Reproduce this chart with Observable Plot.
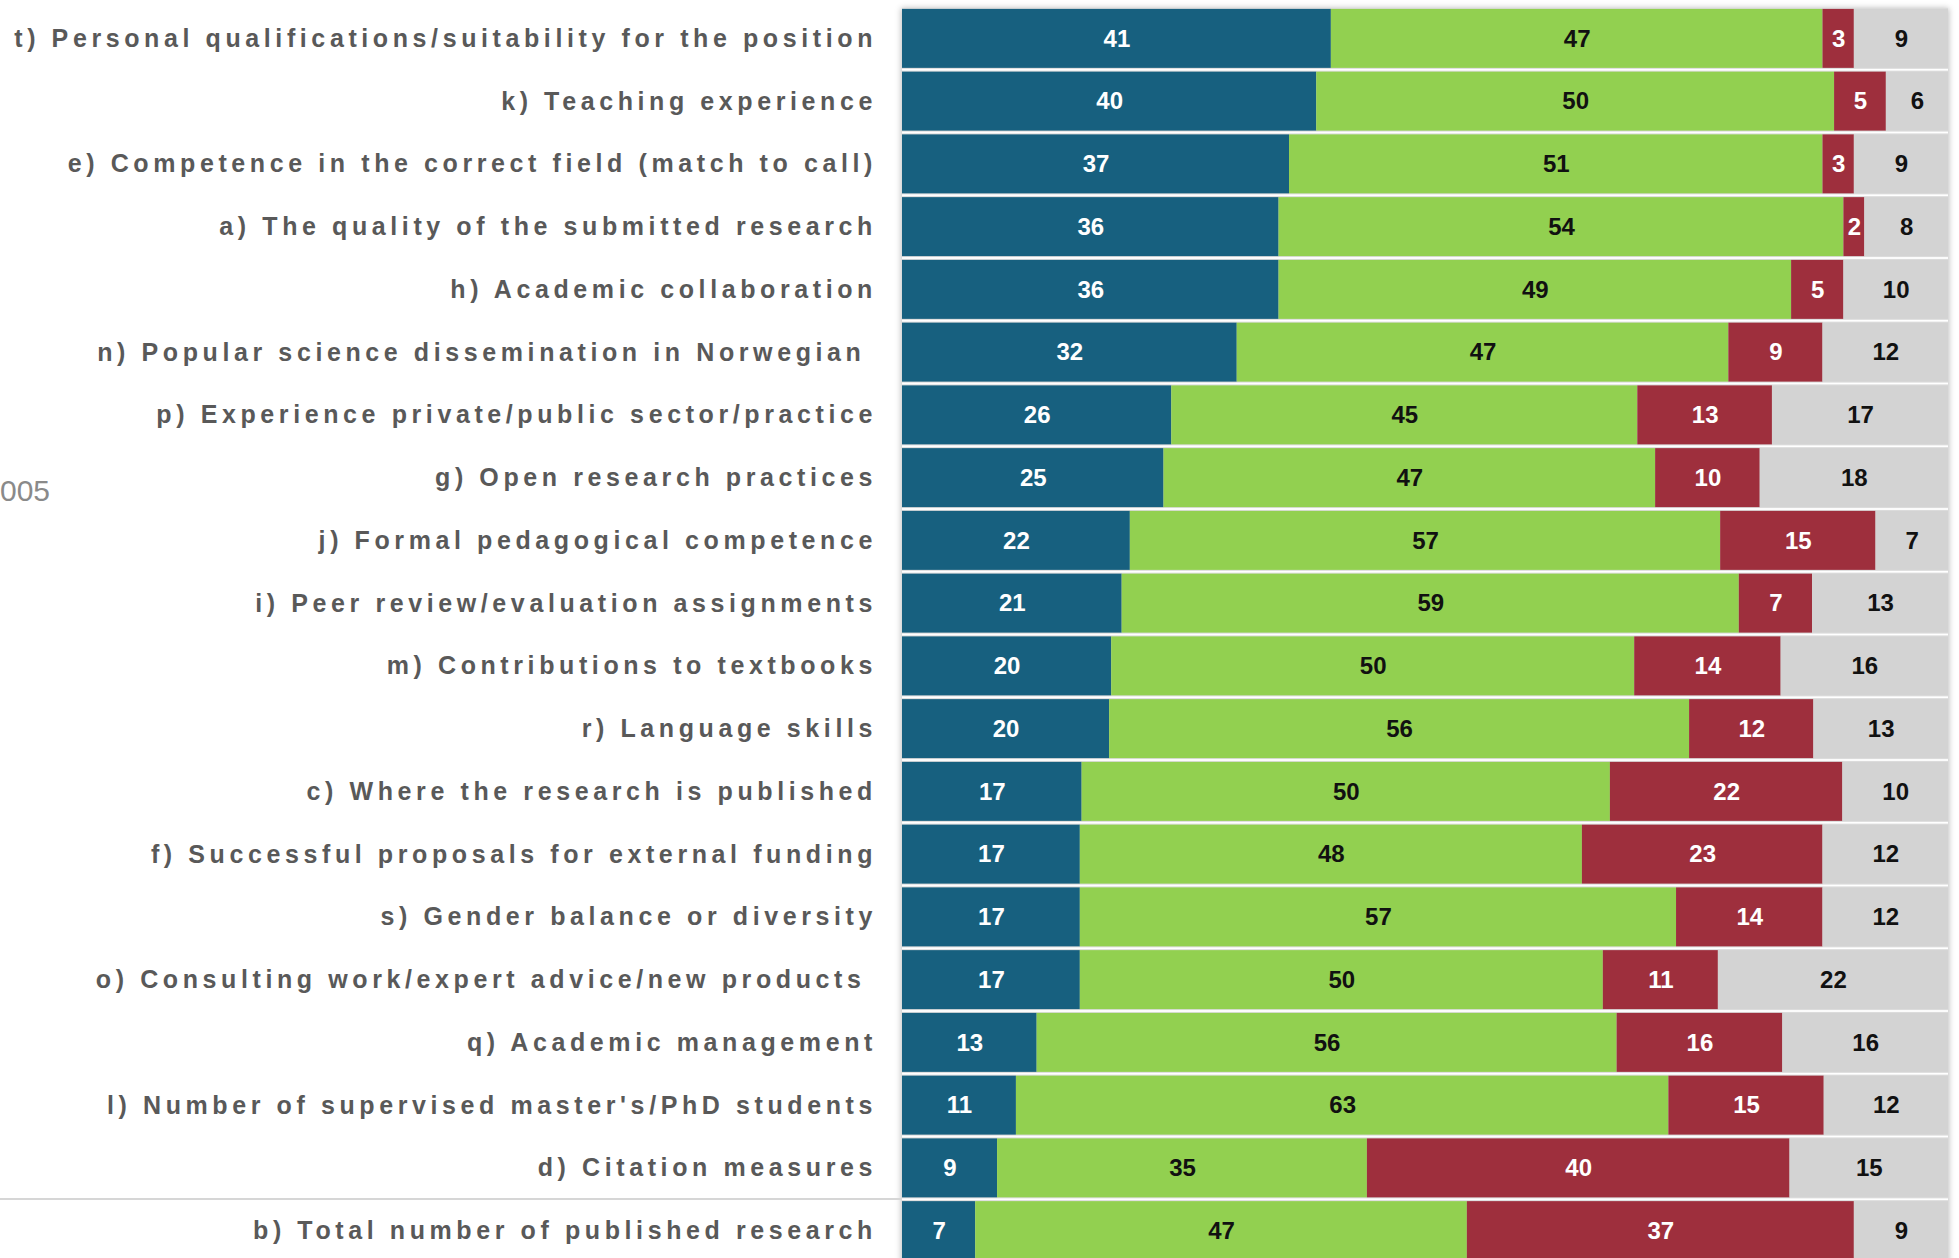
<!DOCTYPE html>
<html>
<head>
<meta charset="utf-8">
<script src="https://cdn.jsdelivr.net/npm/d3@7"></script>
<script src="https://cdn.jsdelivr.net/npm/@observablehq/plot@0.6"></script>
<style>
html, body { margin: 0; padding: 0; background: #fff; overflow: hidden; width: 1959px; height: 1258px; }
#wrap { position: relative; width: 1959px; height: 1258px; overflow: hidden; }
#shadow { position: absolute; left: 902px; top: 9px; width: 1046px; height: 1262px; background: #fff; box-shadow: 0 0 6px 1px rgba(0,0,0,0.25); }
#rule { position: absolute; left: 0; top: 1198px; width: 902px; height: 2px; background: #d6d6d6; }
#stray { position: absolute; left: 0; top: 476px; font: 30px/1 "Liberation Sans", Arial, sans-serif; color: #8a8a8a; }
#chart { position: absolute; left: 0; top: 0; }
#chart svg g[aria-label="y-axis tick label"] text { letter-spacing: 4.6px; }
</style>
</head>
<body>
<div id="wrap">
  <div id="shadow"></div>
  <div id="rule"></div>
  <div id="stray">005</div>
  <div id="chart"></div>
</div>
<script>
const labels = [
  "t) Personal qualifications/suitability for the position",
  "k) Teaching experience",
  "e) Competence in the correct field (match to call)",
  "a) The quality of the submitted research",
  "h) Academic collaboration",
  "n) Popular science dissemination in Norwegian\u00a0",
  "p) Experience private/public sector/practice",
  "g) Open research practices",
  "j) Formal pedagogical competence",
  "i) Peer review/evaluation assignments",
  "m) Contributions to textbooks",
  "r) Language skills",
  "c) Where the research is published",
  "f) Successful proposals for external funding",
  "s) Gender balance or diversity",
  "o) Consulting work/expert advice/new products\u00a0",
  "q) Academic management",
  "l) Number of supervised master's/PhD students",
  "d) Citation measures",
  "b) Total number of published research"
];
const categories = ["blue", "green", "red", "grey"];
const blueValues  = [41, 40, 37, 36, 36, 32, 26, 25, 22, 21, 20, 20, 17, 17, 17, 17, 13, 11, 9, 7];
const greenValues = [47, 50, 51, 54, 49, 47, 45, 47, 57, 59, 50, 56, 50, 48, 57, 50, 56, 63, 35, 47];
const redValues   = [3, 5, 3, 2, 5, 9, 13, 10, 15, 7, 14, 12, 22, 23, 14, 11, 16, 15, 40, 37];
const greyValues  = [9, 6, 9, 8, 10, 12, 17, 18, 7, 13, 16, 13, 10, 12, 12, 22, 16, 12, 15, 9];

const seriesValues = [blueValues, greenValues, redValues, greyValues];
const fillColors = {blue: "#17607f", green: "#92d050", red: "#9e2f3d", grey: "#d3d3d3"};
const textColors = {blue: "#ffffff", green: "#111111", red: "#ffffff", grey: "#111111"};

const data = labels.flatMap((label, i) =>
  categories.map((cat, j) => ({label, cat, value: seriesValues[j][i]}))
);

const chart = Plot.plot({
  width: 1959,
  height: 1263,
  marginLeft: 902,
  marginRight: 11,
  marginTop: 7,
  marginBottom: 1,
  style: {background: "transparent", fontFamily: "'Liberation Sans', Arial, sans-serif"},
  x: {domain: [0, 1], axis: null},
  y: {domain: labels, paddingInner: 0.06, paddingOuter: 0.03, round: false, axis: null},
  marks: [
    Plot.barX(labels, {y: d => d, x1: 0, x2: 1, fill: "#dcdcdc", insetTop: -1, insetBottom: -1}),
    Plot.barX(data, Plot.stackX({
      x: "value", y: "label", z: "cat", offset: "normalize",
      fill: d => fillColors[d.cat]
    })),
    Plot.text(data, Plot.stackX({
      x: "value", y: "label", z: "cat", offset: "normalize",
      text: d => String(d.value),
      fill: d => textColors[d.cat],
      fontSize: 24, fontWeight: "bold"
    })),
    Plot.axisY({
      tickSize: 0, tickPadding: 25.5, fontSize: 25, fontWeight: "bold",
      fill: "#595959", label: null
    })
  ]
});
document.getElementById("chart").appendChild(chart);
</script>
</body>
</html>
